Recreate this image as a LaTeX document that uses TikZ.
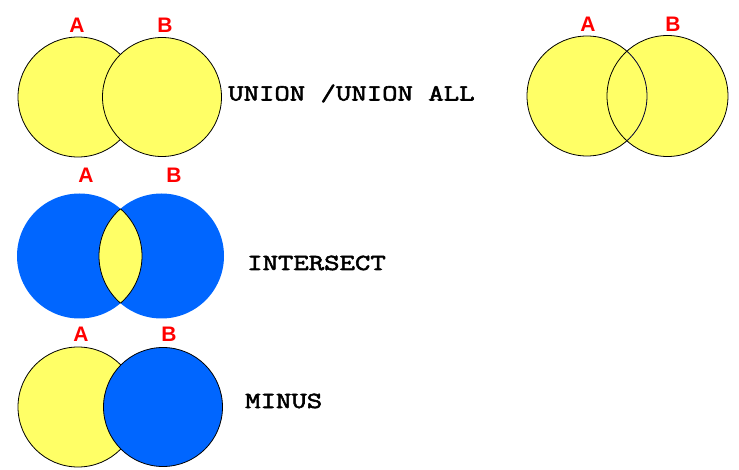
\documentclass[tikz,border=0pt]{standalone}
\usepackage{fontspec}
\setmainfont{Liberation Sans}
\newfontfamily\codefont[FakeStretch=1.3,FakeBold=2.5]{Latin Modern Mono}
\definecolor{vyellow}{HTML}{FFFF66}
\definecolor{vblue}{HTML}{0066FF}
\definecolor{vred}{HTML}{FF0000}
\tikzset{
  setcircle/.style={circle, inner sep=0pt, minimum size=#1, line width=0.8pt},
  ycircle/.style={setcircle=#1, draw=black, fill=vyellow},
  bcircle/.style={setcircle=#1, draw=black, fill=vblue},
  bflat/.style={setcircle=#1, fill=vblue},
  setlabel/.style={text=vred, font=\fontsize{21}{21}\selectfont\bfseries, inner sep=0pt},
  optext/.style={font=\codefont\fontsize{23}{23}\selectfont, inner sep=0pt, anchor=base west},
}
\begin{document}
\begin{tikzpicture}[x=1pt,y=-1pt]
\useasboundingbox (0,0) rectangle (739,470);
% UNION row
\node[ycircle=120pt] (uA) at (78,97) {};
\node[ycircle=119pt] (uB) at (162,97) {};
\node[setlabel] (uLA) at (77,25) {A};
\node[setlabel] (uLB) at (165,25) {B};
\node[optext] (uT) at (228,100.5) {UNION /UNION ALL};
% top-right
\node[ycircle=120pt] (rA) at (587,96) {};
\node[ycircle=121pt] (rB) at (667.5,96) {};
\begin{scope}
  \clip (rB.center) circle (60.5pt);
  \draw[line width=0.8pt, draw=black!80!blue] (rA.center) circle (60pt);
\end{scope}
\node[setlabel] (rLA) at (588,24) {A};
\node[setlabel] (rLB) at (673,24) {B};
% INTERSECT row
\node[bflat=125pt] (iA) at (79.5,256) {};
\node[bflat=125pt] (iB) at (161.5,256) {};
\begin{scope}
  \clip (iA.center) circle (62.5pt);
  \draw[line width=0.8pt, fill=vyellow] (iB.center) circle (62.5pt);
\end{scope}
\begin{scope}
  \clip (iB.center) circle (62.5pt);
  \draw[line width=0.8pt] (iA.center) circle (62.5pt);
\end{scope}
\node[setlabel] (iLA) at (86,175) {A};
\node[setlabel] (iLB) at (174,175) {B};
\node[optext] (iT) at (247,270) {INTERSECT};
% MINUS row
\node[ycircle=120pt] (mA) at (78,407) {};
\node[bcircle=119pt] (mB) at (163,407) {};
\node[setlabel] (mLA) at (81,334) {A};
\node[setlabel] (mLB) at (169,334) {B};
\node[optext] (mT) at (245,408) {MINUS};
\end{tikzpicture}
\end{document}
